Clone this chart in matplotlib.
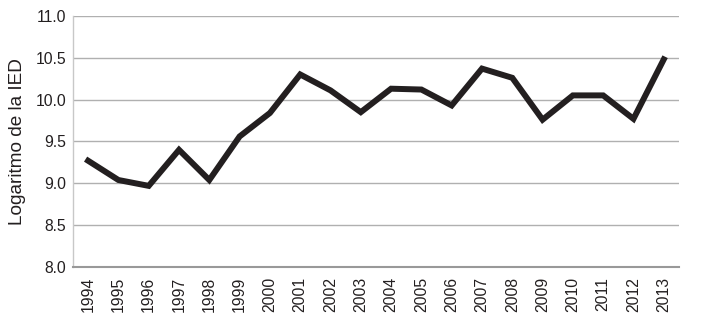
import matplotlib
matplotlib.use('Agg')
import matplotlib.pyplot as plt

years = [str(y) for y in range(1994, 2014)]
log_fdi = [9.27, 9.04, 8.97, 9.40, 9.04, 9.56, 9.84, 10.30, 10.11, 9.85,
           10.13, 10.12, 9.93, 10.37, 10.26, 9.76, 10.05, 10.05, 9.77, 10.48]
y_ticks = [8.0, 8.5, 9.0, 9.5, 10.0, 10.5, 11.0]

plt.rcParams['font.family'] = ['Liberation Sans', 'DejaVu Sans']

fig = plt.figure(figsize=(7.05, 3.23), dpi=100)
ax = fig.add_axes([0.1035, 0.173, 0.8595, 0.778])

ax.plot(range(len(years)), log_fdi, color='#231f20', linewidth=4.3,
        solid_joinstyle='miter', zorder=3)

ax.set_xlim(-0.5, len(years) - 0.5)
ax.set_ylim(8.0, 11.0)
ax.set_yticks(y_ticks)
ax.set_yticklabels([f'{t:.1f}' for t in y_ticks], fontsize=11.3)
ax.set_xticks(range(len(years)))
ax.set_xticklabels(years, rotation=90, fontsize=11.3)
ax.tick_params(length=0, colors='#231f20')
ax.tick_params(axis='y', pad=5)
ax.tick_params(axis='x', pad=7)

ax.grid(axis='y', color='#b0b0b0', linewidth=1.0)
ax.set_axisbelow(True)
for side in ['top', 'right']:
    ax.spines[side].set_visible(False)
ax.spines['left'].set_color('#c8c8c8')
ax.spines['left'].set_linewidth(1.0)
ax.spines['bottom'].set_color('#999999')
ax.spines['bottom'].set_linewidth(1.5)

ax.set_ylabel('Logaritmo de la IED', fontsize=13.7, color='#231f20', labelpad=7)

fig.savefig('out.png', dpi=100)
